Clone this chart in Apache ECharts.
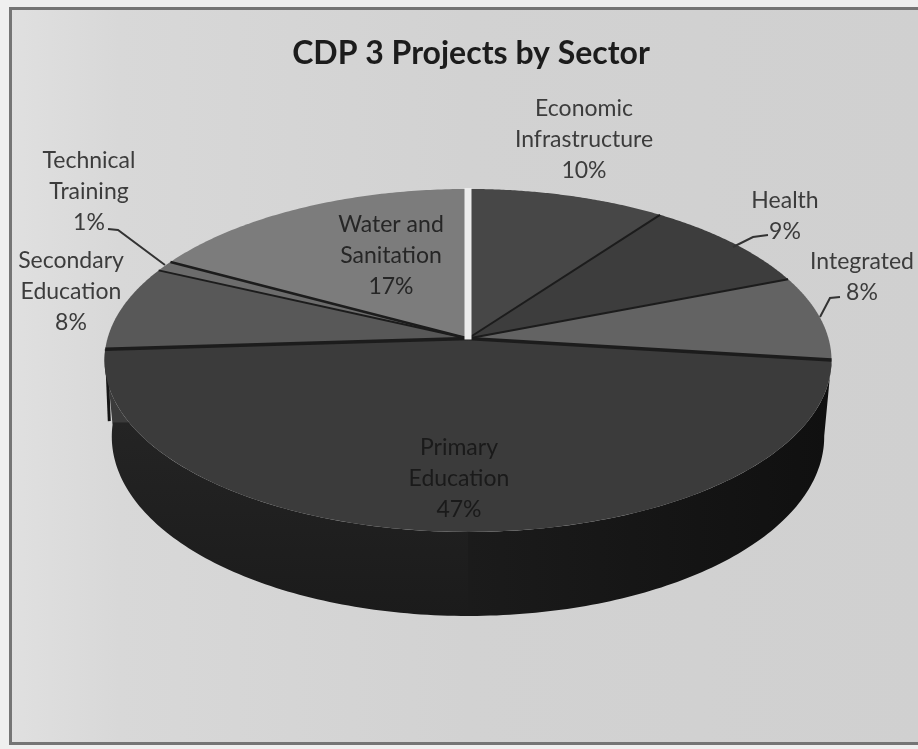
<!DOCTYPE html>
<html>
<head>
<meta charset="utf-8">
<style>html,body{margin:0;padding:0;background:#f4f4f4}#chart{width:918px;height:749px}</style>
<script src="https://cdn.jsdelivr.net/npm/echarts@6/dist/echarts.min.js"></script>
</head>
<body>
<div id="chart"></div>
<script>
// Sector shares in percent, clockwise from twelve o'clock.
const sectors = ['Economic\nInfrastructure', 'Health', 'Integrated', 'Primary\nEducation', 'Secondary\nEducation', 'Technical\nTraining', 'Water and\nSanitation'];
const shares = [10, 9, 8, 47, 8, 1, 17];
const sliceColors = ['#474747', '#3d3d3d', '#636363', '#3b3b3b', '#585858', '#6c6c6c', '#7c7c7c'];
const spokeWidths = [2, 2, 3.5, 3.5, 2, 2.5];

// Label centres (first line) and leader lines.
const labelCentres = [[584, 109], [785, 201], [862, 262], [459, 448], [71, 261], [89, 161], [391, 225]];
const labelColors = ['#3c3c3c', '#3c3c3c', '#3c3c3c', '#1a1a1a', '#3c3c3c', '#3c3c3c', '#262626'];
const leaders = [null, [[768, 235], [753, 237], [733, 247]], [[840, 297], [830, 298], [820, 317]], null, null, [[108, 229], [118, 230], [165, 265]], null];

// Tilted disc: perspective projection of the unit circle onto the page.
const hub = { x: 468, y: 338.5 };
const disc = { R: 360.5, S: 168.7, k: 0.128 };
const total = shares.reduce((a, b) => a + b, 0);
const cumulative = shares.reduce((acc, v) => { acc.push(acc[acc.length - 1] + v); return acc; }, [0]);

function rim(theta) {
  const u = Math.sin(theta), v = Math.cos(theta), w = 1 + disc.k * v;
  return [hub.x + disc.R * u / w, hub.y - disc.S * v / w];
}
// Lower edge of the side wall under a rim point.
function lowerRim(theta) {
  const p = rim(theta), v = Math.cos(theta);
  return [hub.x + 0.98 * (p[0] - hub.x), p[1] + 75 - 9 * v];
}
const angleOf = (c) => (c / total) * Math.PI * 2;
function arc(fn, a0, a1) {
  const pts = [], n = 90;
  for (let i = 0; i <= n; i++) pts.push(fn(a0 + (a1 - a0) * i / n));
  return pts;
}
function wall(a0, a1, fill) {
  return { type: 'polygon', shape: { points: arc(rim, a0, a1).concat(arc(lowerRim, a1, a0)) }, style: { fill: fill, stroke: null } };
}

function renderSlice(params, api) {
  const i = api.value(0);
  const a0 = angleOf(cumulative[i]), a1 = angleOf(cumulative[i + 1]);
  const children = [];
  // Only the slice that faces the viewer shows a side wall.
  if (a0 < Math.PI && a1 > Math.PI) {
    children.push(wall(a0, Math.PI + 0.01, {
      type: 'linear', x: 468, y: 0, x2: 830, y2: 0, global: true,
      colorStops: [{ offset: 0, color: '#1b1b1b' }, { offset: 1, color: '#101010' }]
    }));
    children.push(wall(Math.PI, a1, {
      type: 'linear', x: 0, y: 340, x2: 0, y2: 617, global: true,
      colorStops: [
        { offset: 0, color: sliceColors[i] }, { offset: 0.295, color: sliceColors[i] },
        { offset: 0.3, color: '#242424' }, { offset: 1, color: '#1b1b1b' }
      ]
    }));
    const edgeTop = rim(a1), edgeEnd = [edgeTop[0] + 4, edgeTop[1] + 72];
    children.push({ type: 'polyline', shape: { points: [[edgeTop[0] + 1, edgeTop[1]], edgeEnd] }, style: { stroke: '#161616', lineWidth: 3, fill: null } });
  }
  children.push({
    type: 'polygon',
    shape: { points: [[hub.x, hub.y]].concat(arc(rim, a0, a1)) },
    style: { fill: sliceColors[i] }
  });
  return { type: 'group', children: children };
}

function renderSpoke(params, api) {
  const i = api.value(0);
  const end = rim(angleOf(cumulative[i + 1]));
  return {
    type: 'line',
    shape: { x1: hub.x, y1: hub.y, x2: end[0], y2: end[1] },
    style: { stroke: '#1c1c1c', lineWidth: api.value(1) }
  };
}

function renderGap() {
  const top = rim(0);
  return { type: 'line', shape: { x1: hub.x, y1: hub.y + 1, x2: top[0], y2: top[1] - 1 }, style: { stroke: '#ececec', lineWidth: 7 } };
}

function renderLabel(params, api) {
  const i = api.value(0);
  const children = [];
  const lines = sectors[i].split('\n').concat([shares[i] + '%']);
  lines.forEach((line, n) => {
    children.push({
      type: 'text',
      style: {
        x: labelCentres[i][0], y: labelCentres[i][1] + n * 31, text: line,
        align: 'center', verticalAlign: 'middle',
        font: '23px Lato', fill: labelColors[i]
      }
    });
  });
  if (leaders[i]) {
    children.push({ type: 'polyline', shape: { points: leaders[i] }, style: { stroke: '#333333', lineWidth: 2, fill: null } });
  }
  return { type: 'group', children: children };
}

const indexed = shares.map((v, i) => [i, v]);
const chart = echarts.init(document.getElementById('chart'), null, { renderer: 'canvas' });
chart.setOption({
  animation: false,
  backgroundColor: '#efefef',
  title: {
    text: 'CDP 3 Projects by Sector', left: 466, top: 49, textAlign: 'center', textVerticalAlign: 'middle',
    textStyle: { fontFamily: 'Lato', fontWeight: 'bold', fontSize: 32, color: '#1c1c1c' }
  },
  graphic: [{
    type: 'rect', z: -1, silent: true,
    shape: { x: 10.5, y: 8.5, width: 915, height: 735 },
    style: {
      stroke: '#757575', lineWidth: 3,
      fill: {
        type: 'linear', x: 0, y: 0, x2: 1, y2: 0,
        colorStops: [
          { offset: 0, color: '#e0e0e0' }, { offset: 0.12, color: '#d8d8d8' },
          { offset: 0.5, color: '#d2d2d2' }, { offset: 1, color: '#d0d0d0' }
        ]
      }
    }
  }],
  series: [
    { type: 'custom', coordinateSystem: 'none', silent: true, renderItem: renderSlice, data: indexed, z: 2 },
    { type: 'custom', coordinateSystem: 'none', silent: true, renderItem: renderSpoke, data: spokeWidths.map((w, i) => [i, w]), z: 3 },
    { type: 'custom', coordinateSystem: 'none', silent: true, renderItem: renderGap, data: [[0]], z: 4 },
    { type: 'custom', coordinateSystem: 'none', silent: true, renderItem: renderLabel, data: indexed, z: 5 }
  ]
});
</script>
</body>
</html>
